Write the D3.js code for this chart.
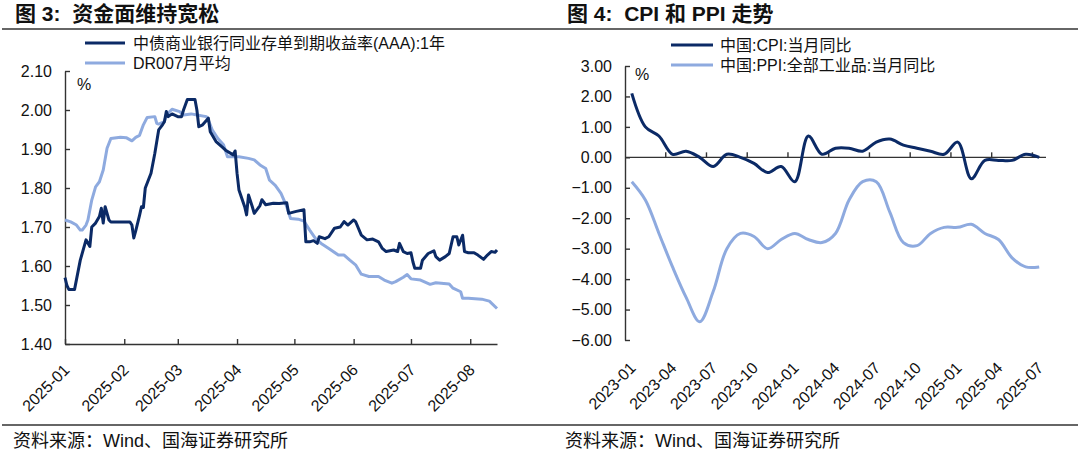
<!DOCTYPE html>
<html>
<head>
<meta charset="utf-8">
<title>资金面与CPI/PPI</title>
<script src="https://d3js.org/d3.v7.min.js"></script>
<style>
  body { margin: 0; background: #fff; }
  svg text { font-family: "Liberation Sans", Arial, "Noto Sans CJK SC", sans-serif; fill: #111; }
  .cjk { font-family: "Liberation Sans", "Noto Sans CJK SC", sans-serif; }
  .title { font-size: 21px; font-weight: bold; }
  .axis path, .axis line { stroke: #333; stroke-width: 1.4; }
  .axis text { font-size: 16px; }
</style>
</head>
<body>
<div id="chart"></div>
<script>

// ---- figure 3 : daily data, 2025 ----
var cdDates = ["2025-01-01","2025-01-02","2025-01-03","2025-01-06","2025-01-09","2025-01-12","2025-01-14","2025-01-15",
  "2025-01-17","2025-01-19","2025-01-20","2025-01-21","2025-01-22","2025-01-24","2025-01-25","2025-02-04","2025-02-05",
  "2025-02-06","2025-02-07","2025-02-09","2025-02-10","2025-02-11","2025-02-12","2025-02-15","2025-02-17","2025-02-19",
  "2025-02-21","2025-02-22","2025-02-23","2025-02-24","2025-02-26","2025-03-01","2025-03-03","2025-03-04","2025-03-06",
  "2025-03-10","2025-03-11","2025-03-12","2025-03-14","2025-03-17","2025-03-18","2025-03-21","2025-03-24","2025-03-26",
  "2025-03-30","2025-03-31","2025-04-01","2025-04-02","2025-04-05","2025-04-06","2025-04-07","2025-04-09","2025-04-10",
  "2025-04-13","2025-04-14","2025-04-16","2025-04-20","2025-04-23","2025-04-27","2025-04-28","2025-05-02","2025-05-06",
  "2025-05-07","2025-05-09","2025-05-11","2025-05-13","2025-05-14","2025-05-17","2025-05-19","2025-05-22","2025-05-25",
  "2025-05-27","2025-05-29","2025-06-01","2025-06-02","2025-06-05","2025-06-08","2025-06-11","2025-06-14","2025-06-16",
  "2025-06-18","2025-06-22","2025-06-24","2025-06-25","2025-06-27","2025-06-29","2025-07-01","2025-07-02","2025-07-03",
  "2025-07-06","2025-07-07","2025-07-10","2025-07-13","2025-07-14","2025-07-16","2025-07-19","2025-07-21","2025-07-23",
  "2025-07-25","2025-07-26","2025-07-28","2025-07-29","2025-07-31","2025-08-03","2025-08-05","2025-08-08","2025-08-10",
  "2025-08-12","2025-08-14","2025-08-15"];
var cdYield = [1.57,1.55,1.54,1.54,1.615,1.667,1.65,1.70,
  1.71,1.727,1.748,1.71,1.752,1.718,1.713,1.713,1.705,
  1.672,1.69,1.73,1.752,1.75,1.80,1.838,1.889,1.949,
  1.962,1.97,1.996,1.983,1.99,1.983,1.983,2.00,2.027,
  2.027,2.00,1.957,1.962,1.979,1.944,1.919,1.906,1.897,
  1.885,1.895,1.838,1.795,1.752,1.731,1.782,1.752,1.735,
  1.755,1.77,1.757,1.761,1.76,1.762,1.735,1.74,1.744,
  1.662,1.662,1.665,1.658,1.675,1.67,1.675,1.697,1.70,
  1.714,1.705,1.718,1.714,1.679,1.667,1.669,1.662,1.645,
  1.637,1.641,1.637,1.658,1.637,1.632,1.634,1.611,1.594,
  1.594,1.615,1.632,1.639,1.624,1.615,1.624,1.632,1.675,
  1.675,1.654,1.679,1.637,1.634,1.634,1.628,1.617,1.628,
  1.637,1.635,1.641];

var drDates = ["2025-01-01","2025-01-04","2025-01-07","2025-01-09","2025-01-10","2025-01-12","2025-01-13","2025-01-15",
  "2025-01-17","2025-01-19","2025-01-21","2025-01-23","2025-01-25","2025-01-30","2025-02-02","2025-02-05","2025-02-07",
  "2025-02-09","2025-02-11","2025-02-13","2025-02-17","2025-02-18","2025-02-19","2025-02-22","2025-02-23","2025-02-26",
  "2025-03-02","2025-03-04","2025-03-08","2025-03-11","2025-03-16","2025-03-17","2025-03-19","2025-03-22","2025-03-25",
  "2025-03-27","2025-03-30","2025-04-02","2025-04-07","2025-04-10","2025-04-13","2025-04-16","2025-04-18","2025-04-21",
  "2025-04-24","2025-04-27","2025-04-29","2025-05-03","2025-05-06","2025-05-09","2025-05-12","2025-05-15","2025-05-19",
  "2025-05-24","2025-05-27","2025-05-30","2025-06-02","2025-06-05","2025-06-09","2025-06-14","2025-06-17","2025-06-21",
  "2025-06-23","2025-06-27","2025-06-29","2025-07-01","2025-07-06","2025-07-11","2025-07-14","2025-07-21","2025-07-23",
  "2025-07-27","2025-07-28","2025-07-31","2025-08-07","2025-08-11","2025-08-15"];
var dr007 = [1.718,1.713,1.705,1.692,1.692,1.705,1.718,1.769,
  1.803,1.816,1.846,1.902,1.927,1.93,1.929,1.921,1.93,
  1.935,1.962,1.981,1.983,1.966,1.964,1.97,1.987,2.002,
  1.996,1.987,1.99,1.987,1.983,1.974,1.949,1.927,1.91,
  1.88,1.88,1.88,1.876,1.872,1.859,1.85,1.82,1.807,
  1.786,1.752,1.722,1.72,1.715,1.692,1.671,1.658,1.645,
  1.628,1.628,1.615,1.603,1.579,1.573,1.573,1.564,1.556,
  1.56,1.571,1.578,1.567,1.564,1.553,1.557,1.554,1.543,
  1.534,1.517,1.517,1.515,1.51,1.491];

var leftTicksY = [1.40,1.50,1.60,1.70,1.80,1.90,2.00,2.10];
var leftMonths = ["2025-01","2025-02","2025-03","2025-04","2025-05","2025-06","2025-07","2025-08"];

// ---- figure 4 : monthly, 2023-01 .. 2025-07 ----
var months = ["2023-01","2023-02","2023-03","2023-04","2023-05","2023-06","2023-07","2023-08","2023-09","2023-10","2023-11","2023-12",
  "2024-01","2024-02","2024-03","2024-04","2024-05","2024-06","2024-07","2024-08","2024-09","2024-10","2024-11","2024-12",
  "2025-01","2025-02","2025-03","2025-04","2025-05","2025-06","2025-07"];
var cpi = [2.1,1.0,0.7,0.1,0.2,0.0,-0.3,0.1,0.0,-0.2,-0.5,-0.3,
  -0.8,0.7,0.1,0.3,0.3,0.2,0.5,0.6,0.4,0.3,0.2,0.1,
  0.5,-0.7,-0.1,-0.1,-0.1,0.1,0.0];
var ppi = [-0.8,-1.4,-2.5,-3.6,-4.6,-5.4,-4.4,-3.0,-2.5,-2.6,-3.0,-2.7,
  -2.5,-2.7,-2.8,-2.5,-1.4,-0.8,-0.8,-1.8,-2.8,-2.9,-2.5,-2.3,
  -2.3,-2.2,-2.5,-2.7,-3.3,-3.6,-3.6];
var rightTicksY = [3,2,1,0,-1,-2,-3,-4,-5,-6];

var navy = "#0b2a66", light = "#8eaadf";
var parse = d3.timeParse("%Y-%m-%d");

var svg = d3.select("#chart").append("svg")
  .attr("width", 1080).attr("height", 451);

// rules top and bottom
svg.append("line").attr("x1", 2).attr("x2", 1078).attr("y1", 29).attr("y2", 29)
  .attr("stroke", "#333").attr("stroke-width", 1.3);
svg.append("line").attr("x1", 2).attr("x2", 1078).attr("y1", 425).attr("y2", 425)
  .attr("stroke", "#333").attr("stroke-width", 1.3);

// titles
svg.append("text").attr("class", "title cjk").attr("x", 15).attr("y", 21)
  .attr("xml:space", "preserve").text("图 3:  资金面维持宽松");
svg.append("text").attr("class", "title cjk").attr("x", 567).attr("y", 21)
  .attr("xml:space", "preserve").text("图 4:  CPI 和 PPI 走势");

// footers
svg.append("text").attr("class", "cjk").attr("x", 13).attr("y", 447).style("font-size", "18px")
  .text("资料来源：Wind、国海证券研究所");
svg.append("text").attr("class", "cjk").attr("x", 565).attr("y", 447).style("font-size", "18px")
  .text("资料来源：Wind、国海证券研究所");

// ===== left chart =====
var x1 = d3.scaleTime()
  .domain([parse("2025-01-01"), parse("2025-08-15")])
  .range([65, 497]);
var y1 = d3.scaleLinear().domain([1.40, 2.10]).range([344, 71]);

svg.append("g").attr("class", "axis")
  .attr("transform", "translate(65,0)")
  .call(d3.axisLeft(y1).tickValues(leftTicksY).tickFormat(d3.format(".2f"))
    .tickSizeInner(-5).tickSizeOuter(0).tickPadding(13));

var gx1 = svg.append("g").attr("class", "axis")
  .attr("transform", "translate(0,344)")
  .call(d3.axisBottom(x1).tickValues(leftMonths.map(function (m) { return parse(m + "-01"); }))
    .tickFormat(d3.timeFormat("%Y-%m")).tickSizeInner(-5).tickSizeOuter(0));
gx1.selectAll("text")
  .attr("x", 0).attr("y", 0).attr("dy", 0)
  .attr("text-anchor", "end")
  .attr("transform", "translate(5,27) rotate(-45)");

var line1 = d3.line()
  .x(function (d) { return x1(d[0]); })
  .y(function (d) { return y1(d[1]); })
  .curve(d3.curveLinear);

svg.append("path")
  .datum(drDates.map(function (d, i) { return [parse(d), dr007[i]]; }))
  .attr("fill", "none").attr("stroke", light).attr("stroke-width", 3)
  .attr("stroke-linejoin", "round").attr("d", line1);
svg.append("path")
  .datum(cdDates.map(function (d, i) { return [parse(d), cdYield[i]]; }))
  .attr("fill", "none").attr("stroke", navy).attr("stroke-width", 3)
  .attr("stroke-linejoin", "round").attr("d", line1);

svg.append("text").attr("x", 77).attr("y", 90).style("font-size", "16px").text("%");

// legend
var leg1 = [["中债商业银行同业存单到期收益率(AAA):1年", navy], ["DR007月平均", light]];
leg1.forEach(function (l, i) {
  svg.append("line").attr("x1", 85).attr("x2", 125).attr("y1", 43 + i * 20).attr("y2", 43 + i * 20)
    .attr("stroke", l[1]).attr("stroke-width", 3);
  svg.append("text").attr("class", "cjk").attr("x", 133).attr("y", 49 + i * 20)
    .style("font-size", "16px").text(l[0]);
});

// ===== right chart =====
var x2 = d3.scaleBand().domain(months).range([625, 1046]).padding(0);
var y2 = d3.scaleLinear().domain([-6, 3]).range([340, 66]);

svg.append("g").attr("class", "axis")
  .attr("transform", "translate(625,0)")
  .call(d3.axisLeft(y2).tickValues(rightTicksY).tickFormat(d3.format(".2f"))
    .tickSizeInner(-5).tickSizeOuter(0).tickPadding(13));

// zero line with quarter ticks at category boundaries
svg.append("line").attr("x1", 625).attr("x2", 1046).attr("y1", y2(0)).attr("y2", y2(0))
  .attr("stroke", "#333").attr("stroke-width", 1.4);
svg.selectAll(".qtick")
  .data(months.filter(function (m, i) { return i > 0 && i % 3 === 0; }))
  .enter().append("line")
  .attr("x1", function (m) { return x2(m); }).attr("x2", function (m) { return x2(m); })
  .attr("y1", y2(0)).attr("y2", y2(0) - 5)
  .attr("stroke", "#333").attr("stroke-width", 1.4);

svg.selectAll(".qlabel")
  .data(months.filter(function (m, i) { return i % 3 === 0; }))
  .enter().append("text")
  .attr("text-anchor", "end").style("font-size", "16px")
  .attr("transform", function (m) {
    return "translate(" + (x2(m) + x2.bandwidth() / 2 + 5) + ",369) rotate(-45)";
  })
  .text(function (m) { return m; });

var line2 = d3.line()
  .x(function (d) { return x2(d[0]) + x2.bandwidth() / 2; })
  .y(function (d) { return y2(d[1]); })
  .curve(d3.curveCatmullRom.alpha(0.5));

svg.append("path")
  .datum(months.map(function (m, i) { return [m, ppi[i]]; }))
  .attr("fill", "none").attr("stroke", light).attr("stroke-width", 3).attr("d", line2);
svg.append("path")
  .datum(months.map(function (m, i) { return [m, cpi[i]]; }))
  .attr("fill", "none").attr("stroke", navy).attr("stroke-width", 3).attr("d", line2);

svg.append("text").attr("x", 635).attr("y", 80).style("font-size", "16px").text("%");

var leg2 = [["中国:CPI:当月同比", navy], ["中国:PPI:全部工业品:当月同比", light]];
leg2.forEach(function (l, i) {
  svg.append("line").attr("x1", 671).attr("x2", 713).attr("y1", 45 + i * 20).attr("y2", 45 + i * 20)
    .attr("stroke", l[1]).attr("stroke-width", 3);
  svg.append("text").attr("class", "cjk").attr("x", 720).attr("y", 51 + i * 20)
    .style("font-size", "16px").text(l[0]);
});

</script>
</body>
</html>
